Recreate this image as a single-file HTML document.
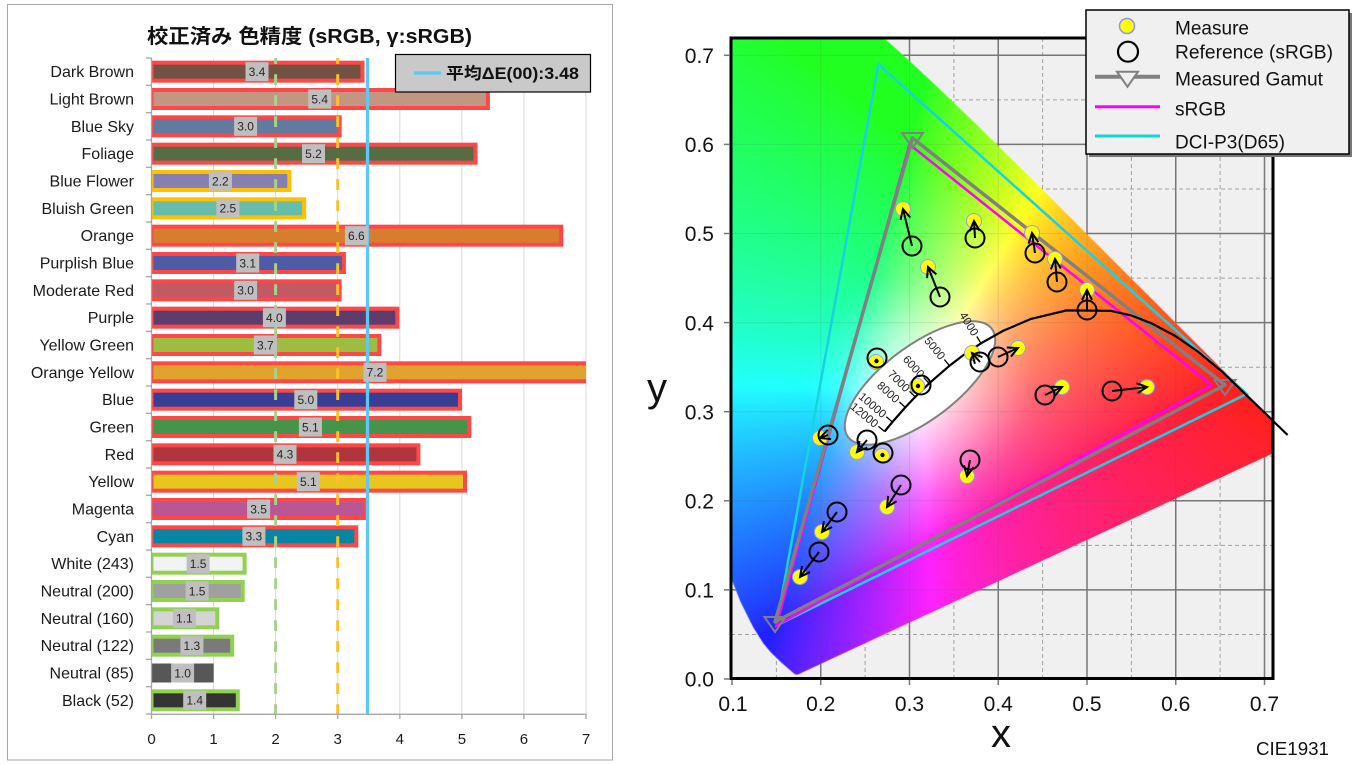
<!DOCTYPE html>
<html><head><meta charset="utf-8">
<style>
html,body{margin:0;padding:0;background:#fff;}
#wrap{position:relative;width:1360px;height:765px;overflow:hidden;background:#fff;}
svg,canvas{position:absolute;left:0;top:0;}
#cie{left:732px;top:38px;}
text{font-family:"Liberation Sans","Noto Sans CJK JP",sans-serif;}
</style></head>
<body><div id="wrap">
<svg id="bg" width="1360" height="765" viewBox="0 0 1360 765">
 <defs>
  <clipPath id="plotL"><rect x="151.5" y="50" width="434.5" height="670"/></clipPath>
  <clipPath id="plotR"><rect x="731" y="38" width="542" height="641"/></clipPath>
  <linearGradient id="fb" x1="0" y1="0" x2="1" y2="1">
   <stop offset="0" stop-color="#30ff40"/><stop offset="0.45" stop-color="#e8ff60"/><stop offset="0.7" stop-color="#ff5060"/><stop offset="1" stop-color="#ff0020"/>
  </linearGradient>
 </defs>
 <!-- LEFT CHART -->
 <rect x="7.5" y="4.5" width="605" height="755.5" fill="#fff" stroke="#a6a6a6" stroke-width="1"/>
 <text x="147" y="43" font-size="20" font-weight="bold" fill="#111" textLength="325" lengthAdjust="spacingAndGlyphs">校正済み 色精度 (sRGB, γ:sRGB)</text>
 <g stroke="#d9d9d9" stroke-width="1">
  <line x1="213.6" y1="58" x2="213.6" y2="714"/><line x1="275.6" y1="58" x2="275.6" y2="714"/>
  <line x1="337.7" y1="58" x2="337.7" y2="714"/><line x1="399.8" y1="58" x2="399.8" y2="714"/>
  <line x1="461.9" y1="58" x2="461.9" y2="714"/><line x1="523.9" y1="58" x2="523.9" y2="714"/>
  <line x1="586" y1="58" x2="586" y2="714"/>
 </g>
 <g clip-path="url(#plotL)" stroke-width="4">
  <rect x="151.5" y="62.67" width="211" height="18" fill="#735244" stroke="#ff4747"/>
  <rect x="151.5" y="90" width="336.4" height="18" fill="#c29682" stroke="#ff4747"/>
  <rect x="151.5" y="117.33" width="188.1" height="18" fill="#627a9d" stroke="#ff4747"/>
  <rect x="151.5" y="144.67" width="324" height="18" fill="#576c43" stroke="#ff4747"/>
  <rect x="151.5" y="172" width="137.8" height="18" fill="#8580b1" stroke="#ffc000"/>
  <rect x="151.5" y="199.33" width="152.7" height="18" fill="#67bdaa" stroke="#ffc000"/>
  <rect x="151.5" y="226.67" width="409.7" height="18" fill="#d67e2c" stroke="#ff4747"/>
  <rect x="151.5" y="254" width="192.4" height="18" fill="#505ba6" stroke="#ff4747"/>
  <rect x="151.5" y="281.33" width="188.1" height="18" fill="#c15a63" stroke="#ff4747"/>
  <rect x="151.5" y="308.67" width="245.8" height="18" fill="#5e3c6c" stroke="#ff4747"/>
  <rect x="151.5" y="336" width="227.8" height="18" fill="#9dbc40" stroke="#ff4747"/>
  <rect x="151.5" y="363.33" width="446.9" height="18" fill="#e0a32e" stroke="#ff4747"/>
  <rect x="151.5" y="390.67" width="308.5" height="18" fill="#383d96" stroke="#ff4747"/>
  <rect x="151.5" y="418" width="317.8" height="18" fill="#469449" stroke="#ff4747"/>
  <rect x="151.5" y="445.33" width="266.9" height="18" fill="#af363c" stroke="#ff4747"/>
  <rect x="151.5" y="472.67" width="313.5" height="18" fill="#e7c71f" stroke="#ff4747"/>
  <rect x="151.5" y="500" width="214.1" height="18" fill="#bb5695" stroke="#ff4747"/>
  <rect x="151.5" y="527.33" width="204.8" height="18" fill="#0885a1" stroke="#ff4747"/>
  <rect x="151.5" y="554.67" width="93.1" height="18" fill="#f3f3f3" stroke="#92d050"/>
  <rect x="151.5" y="582" width="91.2" height="18" fill="#a0a0a0" stroke="#92d050"/>
  <rect x="151.5" y="609.33" width="65.8" height="18" fill="#d4d4d4" stroke="#92d050"/>
  <rect x="151.5" y="636.67" width="80.7" height="18" fill="#7a7a7a" stroke="#92d050"/>
  <rect x="151.5" y="663.5" width="62.1" height="19" fill="#575757" stroke="none"/>
  <rect x="151.5" y="691.33" width="86.3" height="18" fill="#343434" stroke="#92d050"/>
 </g>
 <line x1="275.6" y1="58" x2="275.6" y2="714" stroke="#a9d18e" stroke-width="3" stroke-dasharray="10.7 10.3" stroke-dashoffset="4.7"/>
 <line x1="337.7" y1="58" x2="337.7" y2="714" stroke="#fbc02d" stroke-width="3" stroke-dasharray="10.7 10.3" stroke-dashoffset="4.7"/>
 <line x1="367.5" y1="58" x2="367.5" y2="714" stroke="#5bc8f5" stroke-width="3.3"/>
 <g fill="#bfbfbf">
  <rect x="245.5" y="62.17" width="23" height="19"/><rect x="308.2" y="89.5" width="23" height="19"/>
  <rect x="234.1" y="116.83" width="23" height="19"/><rect x="302" y="144.17" width="23" height="19"/>
  <rect x="208.9" y="171.5" width="23" height="19"/><rect x="216.4" y="198.83" width="23" height="19"/>
  <rect x="344.9" y="226.17" width="23" height="19"/><rect x="236.2" y="253.5" width="23" height="19"/>
  <rect x="234.1" y="280.83" width="23" height="19"/><rect x="262.9" y="308.17" width="23" height="19"/>
  <rect x="253.9" y="335.5" width="23" height="19"/><rect x="363.45" y="362.83" width="23" height="19"/>
  <rect x="294.3" y="390.17" width="23" height="19"/><rect x="298.9" y="417.5" width="23" height="19"/>
  <rect x="273.5" y="444.83" width="23" height="19"/><rect x="296.8" y="472.17" width="23" height="19"/>
  <rect x="247.1" y="499.5" width="23" height="19"/><rect x="242.4" y="526.83" width="23" height="19"/>
  <rect x="186.6" y="554.17" width="23" height="19"/><rect x="185.6" y="581.5" width="23" height="19"/>
  <rect x="172.9" y="608.83" width="23" height="19"/><rect x="180.4" y="636.17" width="23" height="19"/>
  <rect x="171.1" y="663.5" width="23" height="19"/><rect x="183.2" y="690.83" width="23" height="19"/>
 </g>
 <g font-size="12" fill="#262626" text-anchor="middle">
  <text x="257" y="76">3.4</text><text x="319.7" y="103.3">5.4</text><text x="245.6" y="130.6">3.0</text>
  <text x="313.5" y="158">5.2</text><text x="220.4" y="185.3">2.2</text><text x="227.9" y="212.6">2.5</text>
  <text x="356.4" y="240">6.6</text><text x="247.7" y="267.3">3.1</text><text x="245.6" y="294.6">3.0</text>
  <text x="274.4" y="322">4.0</text><text x="265.4" y="349.3">3.7</text><text x="374.95" y="376.6">7.2</text>
  <text x="305.8" y="404">5.0</text><text x="310.4" y="431.3">5.1</text><text x="285" y="458.6">4.3</text>
  <text x="308.3" y="486">5.1</text><text x="258.6" y="513.3">3.5</text><text x="253.9" y="540.6">3.3</text>
  <text x="198.1" y="568">1.5</text><text x="197.1" y="595.3">1.5</text><text x="184.4" y="622.6">1.1</text>
  <text x="191.9" y="650">1.3</text><text x="182.6" y="677.3">1.0</text><text x="194.7" y="704.6">1.4</text>
 </g>
 <g stroke="#a6a6a6" stroke-width="1.3">
  <line x1="151.5" y1="58" x2="151.5" y2="714.5"/><line x1="151.5" y1="714.3" x2="586.5" y2="714.3"/>
  <line x1="146" y1="58" x2="151.5" y2="58"/><line x1="146" y1="85.33" x2="151.5" y2="85.33"/>
  <line x1="146" y1="112.67" x2="151.5" y2="112.67"/><line x1="146" y1="140" x2="151.5" y2="140"/>
  <line x1="146" y1="167.33" x2="151.5" y2="167.33"/><line x1="146" y1="194.67" x2="151.5" y2="194.67"/>
  <line x1="146" y1="222" x2="151.5" y2="222"/><line x1="146" y1="249.33" x2="151.5" y2="249.33"/>
  <line x1="146" y1="276.67" x2="151.5" y2="276.67"/><line x1="146" y1="304" x2="151.5" y2="304"/>
  <line x1="146" y1="331.33" x2="151.5" y2="331.33"/><line x1="146" y1="358.67" x2="151.5" y2="358.67"/>
  <line x1="146" y1="386" x2="151.5" y2="386"/><line x1="146" y1="413.33" x2="151.5" y2="413.33"/>
  <line x1="146" y1="440.67" x2="151.5" y2="440.67"/><line x1="146" y1="468" x2="151.5" y2="468"/>
  <line x1="146" y1="495.33" x2="151.5" y2="495.33"/><line x1="146" y1="522.67" x2="151.5" y2="522.67"/>
  <line x1="146" y1="550" x2="151.5" y2="550"/><line x1="146" y1="577.33" x2="151.5" y2="577.33"/>
  <line x1="146" y1="604.67" x2="151.5" y2="604.67"/><line x1="146" y1="632" x2="151.5" y2="632"/>
  <line x1="146" y1="659.33" x2="151.5" y2="659.33"/><line x1="146" y1="686.67" x2="151.5" y2="686.67"/>
  <line x1="146" y1="714" x2="151.5" y2="714"/>
  <line x1="151.5" y1="714" x2="151.5" y2="719"/><line x1="213.6" y1="714" x2="213.6" y2="719"/>
  <line x1="275.6" y1="714" x2="275.6" y2="719"/><line x1="337.7" y1="714" x2="337.7" y2="719"/>
  <line x1="399.8" y1="714" x2="399.8" y2="719"/><line x1="461.9" y1="714" x2="461.9" y2="719"/>
  <line x1="523.9" y1="714" x2="523.9" y2="719"/><line x1="586" y1="714" x2="586" y2="719"/>
 </g>
 <g font-size="15" fill="#1a1a1a" text-anchor="middle">
  <text x="151.5" y="744">0</text><text x="213.6" y="744">1</text><text x="275.6" y="744">2</text>
  <text x="337.7" y="744">3</text><text x="399.8" y="744">4</text><text x="461.9" y="744">5</text>
  <text x="523.9" y="744">6</text><text x="586" y="744">7</text>
 </g>
 <g font-size="16" fill="#1a1a1a" text-anchor="end">
  <text x="134" y="77.2">Dark Brown</text><text x="134" y="104.5">Light Brown</text>
  <text x="134" y="131.8">Blue Sky</text><text x="134" y="159.2">Foliage</text>
  <text x="134" y="186.5">Blue Flower</text><text x="134" y="213.8">Bluish Green</text>
  <text x="134" y="241.2">Orange</text><text x="134" y="268.5">Purplish Blue</text>
  <text x="134" y="295.8">Moderate Red</text><text x="134" y="323.2">Purple</text>
  <text x="134" y="350.5">Yellow Green</text><text x="134" y="377.8">Orange Yellow</text>
  <text x="134" y="405.2">Blue</text><text x="134" y="432.5">Green</text>
  <text x="134" y="459.8">Red</text><text x="134" y="487.2">Yellow</text>
  <text x="134" y="514.5">Magenta</text><text x="134" y="541.8">Cyan</text>
  <text x="134" y="569.2">White (243)</text><text x="134" y="596.5">Neutral (200)</text>
  <text x="134" y="623.8">Neutral (160)</text><text x="134" y="651.2">Neutral (122)</text>
  <text x="134" y="678.5">Neutral (85)</text><text x="134" y="705.8">Black (52)</text>
 </g>
 <rect x="395.5" y="54.5" width="195" height="37.5" fill="#c9c9c9" stroke="#000" stroke-width="1.2"/>
 <line x1="414" y1="73" x2="441" y2="73" stroke="#5bc8f5" stroke-width="3.3"/>
 <text x="446" y="79" font-size="16.5" font-weight="bold" fill="#111" textLength="133" lengthAdjust="spacingAndGlyphs">平均ΔE(00):3.48</text>

 <!-- RIGHT CHART background -->
 <rect x="731" y="38" width="542" height="641" fill="#f0f0f0"/>
 <g stroke="#a0a0a0" stroke-width="1" stroke-dasharray="4 3">
  <line x1="776.4" y1="38" x2="776.4" y2="679"/><line x1="865.1" y1="38" x2="865.1" y2="679"/>
  <line x1="953.9" y1="38" x2="953.9" y2="679"/><line x1="1042.6" y1="38" x2="1042.6" y2="679"/>
  <line x1="1131.4" y1="38" x2="1131.4" y2="679"/><line x1="1220.1" y1="38" x2="1220.1" y2="679"/>
  <line x1="731" y1="634.5" x2="1273" y2="634.5"/><line x1="731" y1="545.4" x2="1273" y2="545.4"/>
  <line x1="731" y1="456.3" x2="1273" y2="456.3"/><line x1="731" y1="367.2" x2="1273" y2="367.2"/>
  <line x1="731" y1="278.1" x2="1273" y2="278.1"/><line x1="731" y1="189" x2="1273" y2="189"/>
  <line x1="731" y1="99.9" x2="1273" y2="99.9"/>
 </g>
 <g stroke="#7a7a7a" stroke-width="1.5">
  <line x1="820.75" y1="38" x2="820.75" y2="679"/><line x1="909.5" y1="38" x2="909.5" y2="679"/>
  <line x1="998.25" y1="38" x2="998.25" y2="679"/><line x1="1087" y1="38" x2="1087" y2="679"/>
  <line x1="1175.75" y1="38" x2="1175.75" y2="679"/><line x1="1264.5" y1="38" x2="1264.5" y2="679"/>
  <line x1="731" y1="589.9" x2="1273" y2="589.9"/><line x1="731" y1="500.8" x2="1273" y2="500.8"/>
  <line x1="731" y1="411.7" x2="1273" y2="411.7"/><line x1="731" y1="322.6" x2="1273" y2="322.6"/>
  <line x1="731" y1="233.5" x2="1273" y2="233.5"/><line x1="731" y1="144.4" x2="1273" y2="144.4"/>
  <line x1="731" y1="55.3" x2="1273" y2="55.3"/>
 </g>
 <polygon clip-path="url(#plotR)" fill="url(#fb)" opacity="0.9" points="797.8,674.5 795.4,674.5 793.1,672.9 789.2,669.3 782.2,663.2 771.1,652.5 763.5,643.4 753.4,627.5 740.5,601.7 724.2,560.8 704.2,500.2 683.5,416.2 664.1,311.3 650.5,199.3 646.7,95.6 655.6,10.6 677.8,-44.5 709.2,-63.9 744.6,-57.1 780.5,-39.1 814.4,-17.4 847,6.9 879.1,33.6 910.9,62.2 942.6,91.9 974.4,122.6 1005.9,153.7 1037.3,184.8 1068.1,215.5 1098.1,245.4 1126.8,274.1 1153.7,301 1178.3,325.7 1199.7,347.1 1234.2,381.4 1257,404.3 1271.6,418.8 1281.4,428.7 1295.4,442.6"/>
</svg>

<canvas id="cie" width="541" height="641"></canvas>

<svg id="fg" width="1360" height="765" viewBox="0 0 1360 765">
 <defs>
  <marker id="ah" markerUnits="userSpaceOnUse" markerWidth="14" markerHeight="14" refX="11" refY="6" orient="auto">
   <path d="M1,1 L11,6 L1,11" fill="none" stroke="#000" stroke-width="2"/>
  </marker>
  <clipPath id="plotR2"><rect x="731" y="38" width="542" height="641"/></clipPath>
 </defs>
 <g clip-path="url(#plotR2)" stroke="#555" stroke-width="1" opacity="0.13">
  <line x1="820.75" y1="38" x2="820.75" y2="679"/><line x1="909.5" y1="38" x2="909.5" y2="679"/>
  <line x1="998.25" y1="38" x2="998.25" y2="679"/><line x1="1087" y1="38" x2="1087" y2="679"/>
  <line x1="1175.75" y1="38" x2="1175.75" y2="679"/>
  <line x1="731" y1="589.9" x2="1273" y2="589.9"/><line x1="731" y1="500.8" x2="1273" y2="500.8"/>
  <line x1="731" y1="411.7" x2="1273" y2="411.7"/><line x1="731" y1="322.6" x2="1273" y2="322.6"/>
  <line x1="731" y1="233.5" x2="1273" y2="233.5"/><line x1="731" y1="144.4" x2="1273" y2="144.4"/>
  <line x1="731" y1="55.3" x2="1273" y2="55.3"/>
 </g>
 <!-- gamuts -->
 <polygon points="1246.8,393.9 878.4,64.2 776.4,625.5" fill="none" stroke="#16d3e0" stroke-width="2.5"/>
 <polygon points="1211.3,385 909.5,144.4 776.4,625.5" fill="none" stroke="#ff00ff" stroke-width="2.5"/>
 <polygon points="1225,385 912.5,138 775,622" fill="none" stroke="#808080" stroke-width="3.5" stroke-linejoin="round"/>
 <g fill="none" stroke="#808080" stroke-width="2">
  <polygon points="902,133 923,133 912.5,148"/>
  <polygon points="1214.5,380 1235.5,380 1225,395"/>
  <polygon points="764.5,617 785.5,617 775,632"/>
 </g>
 <!-- ellipse + planck -->
 <ellipse cx="920" cy="383" rx="90" ry="37" transform="rotate(-37 920 383)" fill="#fff" stroke="#808080" stroke-width="2"/>
 <polyline points="884.6,431.5 892.4,422 905.3,407.4 915.2,396.9 929.1,383.4 949.5,365.7 963.5,355 981,343.3 1003,330.9 1031,318.9 1066.6,310.4 1110.7,310.8 1131.1,315.4 1152,323.5 1174.4,335.5 1198,351.6 1222.6,372.1 1287.6,435" fill="none" stroke="#000" stroke-width="2.2"/>
 <g stroke="#000" stroke-width="1.3">
  <line x1="981" y1="343.3" x2="976.8" y2="336.5"/><line x1="949.5" y1="365.7" x2="944.4" y2="359.5"/>
  <line x1="929.1" y1="383.4" x2="923.7" y2="377.5"/><line x1="915.2" y1="396.9" x2="909.5" y2="391.3"/>
  <line x1="905.3" y1="407.4" x2="899.4" y2="402"/><line x1="892.4" y1="422" x2="886.3" y2="416.8"/>
  <line x1="884.6" y1="431.5" x2="878.4" y2="426.4"/>
 </g>
 <g font-size="11.5" fill="#222" text-anchor="end">
  <text transform="translate(975.8,334.8) rotate(58.6)" dy="0.35em">4000</text>
  <text transform="translate(943.1,358) rotate(50.4)" dy="0.35em">5000</text>
  <text transform="translate(922.4,376) rotate(47.7)" dy="0.35em">6000</text>
  <text transform="translate(908.1,389.9) rotate(44.8)" dy="0.35em">7000</text>
  <text transform="translate(897.9,400.7) rotate(42.2)" dy="0.35em">8000</text>
  <text transform="translate(884.8,415.5) rotate(40.6)" dy="0.35em">10000</text>
  <text transform="translate(876.9,425.1) rotate(39.4)" dy="0.35em">12000</text>
 </g>
 <!-- measure dots -->
 <g fill="#ffff00" stroke="#9a9af0" stroke-width="1">
  <circle cx="903" cy="209" r="7.5"/><circle cx="974" cy="221" r="7.5"/><circle cx="1032" cy="233" r="7.5"/>
  <circle cx="1055" cy="259" r="7.5"/><circle cx="1087" cy="290" r="7.5"/><circle cx="928" cy="267" r="7.5"/>
  <circle cx="972" cy="353" r="7.5"/><circle cx="1018" cy="348" r="7.5"/><circle cx="1062" cy="387" r="7.5"/>
  <circle cx="1147" cy="387" r="7.5"/><circle cx="876" cy="362" r="7.5"/><circle cx="917" cy="386" r="7.5"/>
  <circle cx="820" cy="438" r="7.5"/><circle cx="857" cy="452" r="7.5"/><circle cx="882" cy="456" r="7.5"/>
  <circle cx="967" cy="476" r="7.5"/><circle cx="887" cy="507" r="7.5"/><circle cx="822" cy="532" r="7.5"/>
  <circle cx="800" cy="577" r="7.5"/>
 </g>
 <!-- reference circles -->
 <g fill="none" stroke="#000" stroke-width="2">
  <circle cx="912" cy="246" r="9.5"/><circle cx="975" cy="238" r="9.5"/><circle cx="1035" cy="253" r="9.5"/>
  <circle cx="1057" cy="282" r="9.5"/><circle cx="1087" cy="310" r="9.5"/><circle cx="940" cy="297" r="9.5"/>
  <circle cx="980" cy="362" r="9.5"/><circle cx="998" cy="357" r="9.5"/><circle cx="1045" cy="395" r="9.5"/>
  <circle cx="1112" cy="391" r="9.5"/><circle cx="877" cy="358" r="9.5"/><circle cx="921" cy="385" r="9.5"/>
  <circle cx="828" cy="435" r="9.5"/><circle cx="867" cy="440" r="9.5"/><circle cx="883" cy="453" r="9.5"/>
  <circle cx="970" cy="460" r="9.5"/><circle cx="901" cy="485" r="9.5"/><circle cx="837" cy="512" r="9.5"/>
  <circle cx="819" cy="552" r="9.5"/>
 </g>
 <!-- arrows -->
 <g stroke="#000" stroke-width="2" marker-end="url(#ah)">
  <line x1="912" y1="246" x2="903" y2="209"/><line x1="975" y1="238" x2="974" y2="221"/>
  <line x1="1035" y1="253" x2="1032" y2="233"/><line x1="1057" y1="282" x2="1055" y2="259"/>
  <line x1="1087" y1="310" x2="1087" y2="290"/><line x1="940" y1="297" x2="928" y2="267"/>
  <line x1="980" y1="362" x2="972" y2="353"/><line x1="998" y1="357" x2="1018" y2="348"/>
  <line x1="1045" y1="395" x2="1062" y2="387"/><line x1="1112" y1="391" x2="1147" y2="387"/>
  <line x1="828" y1="435" x2="820" y2="438"/><line x1="867" y1="440" x2="857" y2="452"/>
  <line x1="970" y1="460" x2="967" y2="476"/><line x1="901" y1="485" x2="887" y2="507"/>
  <line x1="837" y1="512" x2="822" y2="532"/><line x1="819" y1="552" x2="800" y2="577"/>
 </g>
 <g fill="#000"><circle cx="876.5" cy="361" r="2.2"/><circle cx="918" cy="386" r="2.2"/><circle cx="882.5" cy="455" r="2.2"/></g>
 <!-- frame & ticks -->
 <rect x="731" y="38" width="542" height="640.5" fill="none" stroke="#000" stroke-width="3"/>
 <g stroke="#777" stroke-width="1.5">
  <line x1="724" y1="679" x2="730" y2="679"/><line x1="724" y1="589.9" x2="730" y2="589.9"/>
  <line x1="724" y1="500.8" x2="730" y2="500.8"/><line x1="724" y1="411.7" x2="730" y2="411.7"/>
  <line x1="724" y1="322.6" x2="730" y2="322.6"/><line x1="724" y1="233.5" x2="730" y2="233.5"/>
  <line x1="724" y1="144.4" x2="730" y2="144.4"/><line x1="724" y1="55.3" x2="730" y2="55.3"/>
  <line x1="732" y1="680" x2="732" y2="685"/><line x1="820.75" y1="680" x2="820.75" y2="685"/>
  <line x1="909.5" y1="680" x2="909.5" y2="685"/><line x1="998.25" y1="680" x2="998.25" y2="685"/>
  <line x1="1087" y1="680" x2="1087" y2="685"/><line x1="1175.75" y1="680" x2="1175.75" y2="685"/>
  <line x1="1264.5" y1="680" x2="1264.5" y2="685"/>
 </g>
 <g font-size="21" fill="#111" text-anchor="end">
  <text x="714" y="686.7">0.0</text><text x="714" y="597.6">0.1</text><text x="714" y="508.5">0.2</text>
  <text x="714" y="419.4">0.3</text><text x="714" y="330.3">0.4</text><text x="714" y="241.2">0.5</text>
  <text x="714" y="152.1">0.6</text><text x="714" y="63">0.7</text>
 </g>
 <g font-size="21" fill="#111" text-anchor="middle">
  <text x="733" y="711">0.1</text><text x="820.75" y="711">0.2</text><text x="909.5" y="711">0.3</text>
  <text x="998.25" y="711">0.4</text><text x="1087" y="711">0.5</text><text x="1175.75" y="711">0.6</text>
  <text x="1264.5" y="711">0.7</text>
 </g>
 <text x="657" y="401" font-size="40" fill="#111" text-anchor="middle">y</text>
 <text x="1001" y="747" font-size="40" fill="#111" text-anchor="middle">x</text>
 <text x="1256" y="755" font-size="18" fill="#111" textLength="73" lengthAdjust="spacingAndGlyphs">CIE1931</text>
 <!-- legend -->
 <rect x="1089" y="13" width="263" height="144" fill="#777"/>
 <rect x="1086" y="10" width="263" height="144" fill="#f0f0f0" stroke="#000" stroke-width="1.5"/>
 <circle cx="1127" cy="26" r="7.5" fill="#ffff00" stroke="#9090ff" stroke-width="1.5"/>
 <circle cx="1128" cy="51.7" r="10" fill="none" stroke="#000" stroke-width="2.2"/>
 <line x1="1095" y1="76.7" x2="1160" y2="76.7" stroke="#808080" stroke-width="4"/>
 <polygon points="1117,71.7 1138,71.7 1127.5,86.7" fill="#f0f0f0" stroke="#808080" stroke-width="2"/>
 <line x1="1095" y1="106.7" x2="1160" y2="106.7" stroke="#ff00ff" stroke-width="3"/>
 <line x1="1095" y1="136" x2="1160" y2="136" stroke="#16d3e0" stroke-width="3"/>
 <g font-size="19" fill="#111">
  <text x="1175" y="34.3" textLength="74" lengthAdjust="spacingAndGlyphs">Measure</text>
  <text x="1175" y="58.3" textLength="158" lengthAdjust="spacingAndGlyphs">Reference (sRGB)</text>
  <text x="1175" y="85.7" textLength="148" lengthAdjust="spacingAndGlyphs">Measured Gamut</text>
  <text x="1175" y="115.7" textLength="51" lengthAdjust="spacingAndGlyphs">sRGB</text>
  <text x="1175" y="148.3" textLength="110" lengthAdjust="spacingAndGlyphs">DCI-P3(D65)</text>
 </g>
</svg>
</div>
<script>
(function(){
 var cv=document.getElementById('cie'); if(!cv||!cv.getContext) return;
 var W=541,H=641,ctx=cv.getContext('2d');
 var L=[[0.1741,0.0050],[0.1714,0.0051],[0.1689,0.0069],[0.1644,0.0109],[0.1566,0.0177],[0.1440,0.0297],[0.1355,0.0399],[0.1241,0.0578],[0.1096,0.0868],[0.0913,0.1327],[0.0687,0.2007],[0.0454,0.2950],[0.0235,0.4127],[0.0082,0.5384],[0.0039,0.6548],[0.0139,0.7502],[0.0389,0.8120],[0.0743,0.8338],[0.1142,0.8262],[0.1547,0.8059],[0.1929,0.7816],[0.2296,0.7543],[0.2658,0.7243],[0.3016,0.6923],[0.3373,0.6589],[0.3731,0.6245],[0.4087,0.5896],[0.4441,0.5547],[0.4788,0.5202],[0.5125,0.4866],[0.5448,0.4544],[0.5752,0.4242],[0.6029,0.3965],[0.6270,0.3725],[0.6482,0.3514],[0.6658,0.3340],[0.6801,0.3197],[0.6915,0.3083],[0.7006,0.2993],[0.7079,0.2920],[0.7140,0.2859],[0.7190,0.2809],[0.7230,0.2770],[0.7260,0.2740],[0.7347,0.2653]];
 var off=document.createElement('canvas'); off.width=W; off.height=H;
 var oc=off.getContext('2d'); var img=oc.createImageData(W,H); var d=img.data;
 function gm(c){c=Math.max(0,Math.min(1,c));return Math.pow(c,0.75);}
 for(var py=0;py<H;py++){
  var yy=(679-(38+py+0.5))/891; if(yy<0.002) yy=0.002;
  for(var px=0;px<W;px++){
   var xx=0.1+(px+0.5)/887.5;
   var X=xx/yy, Y=1, Z=(1-xx-yy)/yy;
   var r=3.2406*X-1.5372*Y-0.4986*Z, g=-0.9689*X+1.8758*Y+0.0415*Z, b=0.0557*X-0.2040*Y+1.0570*Z;
   if(r<0)r=0; if(g<0)g=0; if(b<0)b=0;
   var m=Math.max(r,g,b)||1; r/=m; g/=m; b/=m;
   r=0.13+0.87*gm(r); g=0.13+0.87*gm(g); b=0.13+0.87*gm(b);
   var dx=xx-0.3127, dy=yy-0.329, dist=Math.sqrt(dx*dx+dy*dy);
   var w=Math.max(0,1-dist/0.13); w=0.75*Math.pow(w,1.4);
   r=r+(1-r)*w; g=g+(1-g)*w; b=b+(1-b)*w;
   var i=(py*W+px)*4;
   d[i]=Math.round(255*r); d[i+1]=Math.round(255*g); d[i+2]=Math.round(255*b);
   d[i+3]=255;
  }
 }
 oc.putImageData(img,0,0);
 ctx.save(); ctx.beginPath();
 for(var k=0;k<L.length;k++){
  var sx=(L[k][0]-0.1)*887.5, sy=(679-891*L[k][1])-38;
  if(k===0) ctx.moveTo(sx,sy); else ctx.lineTo(sx,sy);
 }
 ctx.closePath(); ctx.clip(); ctx.drawImage(off,0,0); ctx.restore();
})();
</script>
</body></html>
